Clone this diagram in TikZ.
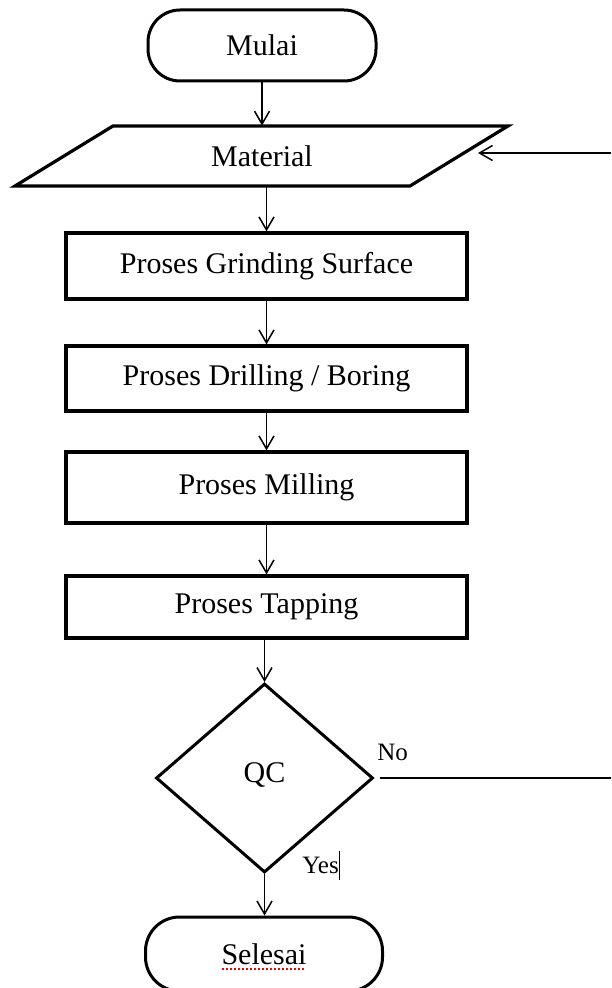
\documentclass[tikz,border=0pt]{standalone}
\usepackage{fontspec}
\setmainfont{Liberation Serif}
\usetikzlibrary{arrows.meta,shapes.geometric}
\begin{document}
\begin{tikzpicture}[x=0.5pt,y=-0.5pt,
  font=\fontsize{15}{18}\selectfont,
  term/.style={draw, line width=1.5pt, rounded corners=16pt, minimum width=114pt, minimum height=35.5pt, inner sep=0pt},
  proc/.style={draw, line width=1.6pt, minimum width=200.5pt, inner sep=0pt},
  dec/.style={draw, diamond, line width=1.5pt, aspect=1.15, minimum width=108.5pt, minimum height=94.5pt, inner sep=0pt},
  arr/.style={line width=0.75pt, -{Straight Barb[length=6.5pt,width=7.5pt,line width=0.75pt]}},
  plain/.style={line width=0.75pt},
  lbl/.style={font=\fontsize{12.5}{15}\selectfont, inner sep=0pt}]
\clip (0,0) rectangle (611,988);
\fill[white] (0,0) rectangle (611,988);

% nodes
\node[term] (start) at (262,45.5) {\raisebox{-3pt}{Mulai}};
\node[minimum width=148.5pt, minimum height=30pt, inner sep=0pt] (mat) at (262,156) {Material};
\draw[line width=1.6pt, line join=miter] (113,126) -- (508,126) -- (410,186) -- (15,186) -- cycle;
\node[proc, minimum height=33pt] (p1) at (266.5,266) {Proses Grinding Surface};
\node[proc, minimum height=32.5pt] (p2) at (266.5,378.5) {Proses Drilling / Boring};
\node[proc, minimum height=35.5pt] (p3) at (266.5,487.5) {\raisebox{2pt}{Proses Milling}};
\node[proc, minimum height=31pt] (p4) at (266.5,607) {Proses Tapping};
\node[dec] (qc) at (264.5,778) {\raisebox{5pt}{QC}};
\node[term, minimum width=118.5pt, minimum height=37pt, rounded corners=17pt] (end) at (264,954) {\raisebox{-3pt}{Selesai}};

\node[lbl, anchor=west] (no) at (377,752) {No};
\node[lbl, anchor=west] (yes) at (302,865) {Yes\rule[-3pt]{0.5pt}{14.5pt}};

\coordinate (rin) at (611,153);
\coordinate (matin) at (478,153);
\coordinate (rout) at (611,778);

% connectors
\draw[arr] (start) -- (mat);
\draw[arr] (p1.north |- mat.south) -- (p1.north);
\draw[arr] (p1) -- (p2);
\draw[arr] (p2) -- (p3);
\draw[arr] (p3) -- (p4);
\draw[arr] (p4.south -| qc.north) -- (qc.north);
\draw[arr] (qc.south) -- (qc.south |- end.north);
\draw[plain, shorten <=2.5pt] (qc.east) -- (rout);
\draw[arr] (rin) -- (matin);

% spell-check underline
\draw[red, line width=0.6pt, dash pattern=on 1pt off 1pt] (222,969) -- (305,969);
\end{tikzpicture}
\end{document}
